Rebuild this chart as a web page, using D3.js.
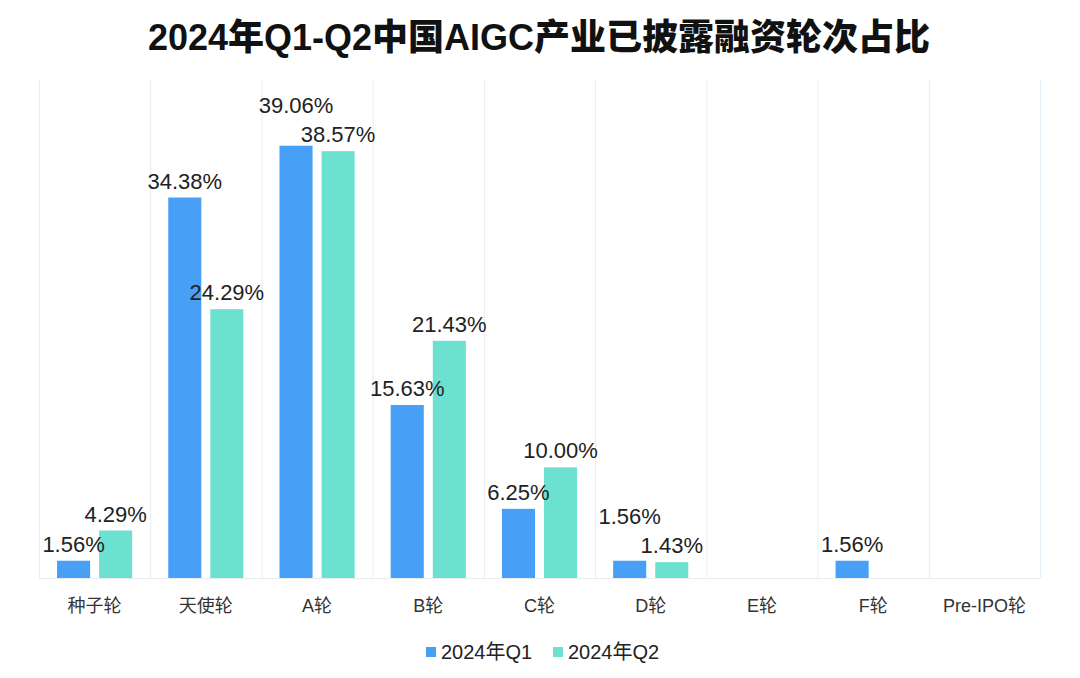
<!DOCTYPE html>
<html><head><meta charset="utf-8">
<script src="https://cdn.jsdelivr.net/npm/d3@7/dist/d3.min.js"></script>
<style>body{margin:0;background:#fff;}svg{display:block;}</style>
</head><body>
<svg id="chart" width="1080" height="678"></svg>
<script>
const title = "2024年Q1-Q2中国AIGC产业已披露融资轮次占比";
const categories = ["种子轮","天使轮","A轮","B轮","C轮","D轮","E轮","F轮","Pre-IPO轮"];
const seriesNames = ["2024年Q1","2024年Q2"];
const q1Values = [1.56, 34.38, 39.06, 15.63, 6.25, 1.56, 0, 1.56, 0];
const q2Values = [4.29, 24.29, 38.57, 21.43, 10.00, 1.43, 0, 0, 0];
const yMax = 45;
const colors = ["#489ff6", "#6de1d0"];

const svg = d3.select("#chart");
const fontLatin = "'Liberation Sans', 'Noto Sans CJK SC', sans-serif";
const m = {left: 39, right: 1040, top: 80, bottom: 578};

svg.append("text").attr("x", 539).attr("y", 50).attr("text-anchor", "middle")
  .style("font-family", fontLatin).style("font-size", "36px").style("font-weight", "900")
  .attr("fill", "#111").text(title);

const x0 = d3.scaleBand().domain(categories).range([m.left, m.right]).padding(0);
const x1 = d3.scaleBand().domain(seriesNames).range([0, x0.bandwidth()])
  .paddingInner(0.214).paddingOuter(0.4286);
const y = d3.scaleLinear().domain([0, yMax]).range([m.bottom, m.top]);

const bounds = categories.map(c => x0(c)).concat([m.right]);
svg.append("g").selectAll("line").data(bounds).join("line")
  .attr("x1", d => d + 0.5).attr("x2", d => d + 0.5)
  .attr("y1", m.top).attr("y2", m.bottom)
  .attr("stroke", "#e2eef5").attr("stroke-width", 1);
svg.append("line").attr("x1", m.left).attr("x2", m.right)
  .attr("y1", m.bottom + 0.5).attr("y2", m.bottom + 0.5)
  .attr("stroke", "#e6ecf0").attr("stroke-width", 1);

const data = categories.map((c, i) => ({cat: c, vals: [
  {s: seriesNames[0], v: q1Values[i], k: 0},
  {s: seriesNames[1], v: q2Values[i], k: 1}]}));

const groups = svg.append("g").selectAll("g").data(data).join("g")
  .attr("transform", d => `translate(${x0(d.cat)},0)`);

groups.selectAll("rect").data(d => d.vals.filter(e => e.v > 0)).join("rect")
  .attr("x", d => x1(d.s)).attr("width", x1.bandwidth())
  .attr("y", d => y(d.v)).attr("height", d => y(0) - y(d.v))
  .attr("fill", d => colors[d.k]);

groups.each(function(d) {
  const g = d3.select(this);
  const labs = d.vals.filter(e => e.v > 0).map(e => ({...e, by: y(e.v) - 9}));
  if (labs.length === 2 && Math.abs(labs[0].by - labs[1].by) < 28) {
    const hi = labs[0].v >= labs[1].v ? 0 : 1;
    const lo = 1 - hi;
    labs[hi].by = labs[lo].by - 29;
  }
  g.selectAll("text.val").data(labs).join("text").attr("class", "val")
    .attr("x", e => x1(e.s) + x1.bandwidth() / 2).attr("y", e => e.by)
    .attr("text-anchor", "middle")
    .style("font-family", fontLatin).style("font-size", "22px")
    .attr("fill", "#222").text(e => e.v.toFixed(2) + "%");
});

const xAxis = d3.axisBottom(x0).tickSize(0).tickPadding(0);
const ax = svg.append("g").attr("transform", `translate(0,${m.bottom})`).call(xAxis);
ax.select(".domain").remove();
ax.selectAll("text").attr("y", 28).attr("dy", "0.32em")
  .style("font-family", fontLatin).style("font-size", "18px").attr("fill", "#333");

const leg = svg.append("g");
const legX = [426, 553];
seriesNames.forEach((s, i) => {
  leg.append("rect").attr("x", legX[i]).attr("y", 647).attr("width", 10).attr("height", 10)
    .attr("fill", colors[i]);
  leg.append("text").attr("x", legX[i] + 15).attr("y", 652).attr("dy", "0.35em")
    .style("font-family", fontLatin).style("font-size", "20px").attr("fill", "#222").text(s);
});
</script>
</body></html>
